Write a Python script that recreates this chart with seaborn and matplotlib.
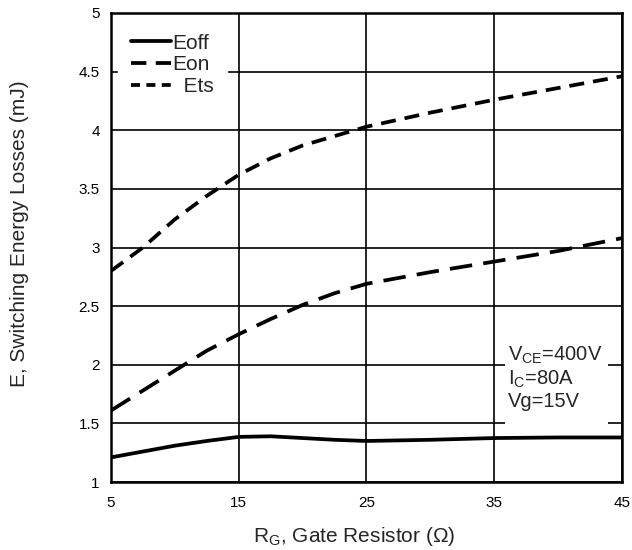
import pandas as pd
import matplotlib.pyplot as plt
import seaborn as sns
from matplotlib.lines import Line2D
from matplotlib.patches import Rectangle

# data
rg = [5, 7.5, 10, 12.5, 15, 17.5, 20, 22.5, 25, 30, 35, 40, 45]
eoff = [1.21, 1.26, 1.31, 1.35, 1.385, 1.39, 1.375, 1.36, 1.35, 1.36, 1.375, 1.38, 1.38]
eon = [1.61, 1.78, 1.95, 2.12, 2.26, 2.39, 2.51, 2.61, 2.69, 2.79, 2.88, 2.97, 3.08]
ets = [2.8, 3.0, 3.24, 3.44, 3.62, 3.76, 3.87, 3.95, 4.03, 4.15, 4.26, 4.36, 4.46]
names = ["Eoff", "Eon", "Ets"]
x_ticks = [5, 15, 25, 35, 45]
y_ticks = [1, 1.5, 2, 2.5, 3, 3.5, 4, 4.5, 5]
y_labels = ["1", "1.5", "2", "2.5", "3", "3.5", "4", "4.5", "5"]

df = pd.concat([
    pd.DataFrame({"Rg": rg, "E": vals, "curve": name})
    for name, vals in zip(names, [eoff, eon, ets])
], ignore_index=True)

sns.set_style("white")
plt.rcParams['font.family'] = ['Liberation Sans', 'DejaVu Sans']
plt.rcParams['mathtext.fontset'] = 'custom'
plt.rcParams['mathtext.rm'] = 'Liberation Sans'

LW = 2.7
fig = plt.figure(figsize=(6.32, 5.5), dpi=100)
ax = fig.add_axes([0.1756, 0.1236, 0.8084, 0.8528])

sns.lineplot(data=df, x="Rg", y="E", hue="curve", style="curve",
             palette={n: "black" for n in names},
             dashes={"Eoff": "", "Eon": (6, 3), "Ets": (4, 2.4)},
             linewidth=LW, legend=False, ax=ax)

ax.set_xlim(5, 45)
ax.set_ylim(1, 5)
ax.set_xticks(x_ticks)
ax.set_xticklabels([str(t) for t in x_ticks])
ax.set_yticks(y_ticks)
ax.set_yticklabels(y_labels)
ax.tick_params(length=0, labelsize=11, colors="black")
ax.tick_params(axis="y", pad=8)
ax.tick_params(axis="x", pad=10)
ax.grid(True, color="black", linewidth=1.2)
ax.set_axisbelow(True)
for s in ax.spines.values():
    s.set_color("black")
    s.set_linewidth(1.8)

ax.set_xlabel(r"R$_\mathregular{G}$, Gate Resistor (Ω)", fontsize=15)
ax.xaxis.set_label_coords(0.477, -0.092)
ax.set_ylabel("E, Switching Energy Losses (mJ)", fontsize=15)
ax.yaxis.set_label_coords(-0.16, 0.53)

# legend handles drawn with the short dash look of the original
handles = [
    Line2D([], [], color="black", lw=LW, linestyle="-"),
    Line2D([], [], color="black", lw=LW, linestyle=(0, (4.1, 2.5))),
    Line2D([], [], color="black", lw=LW, linestyle=(0, (2.4, 1.7))),
]
ax.legend(handles, ["Eoff", "Eon", "  Ets"], loc="upper left",
          bbox_to_anchor=(0.0137, 0.984), borderaxespad=0,
          fontsize=15, handlelength=1.92, handletextpad=0.05,
          labelspacing=0.13, borderpad=0.63, frameon=True,
          fancybox=False, framealpha=1, edgecolor="white")

# white panel behind the test conditions
ax.add_patch(Rectangle((0.771, 0.115), 0.202, 0.188, transform=ax.transAxes,
                       facecolor="white", edgecolor="none", zorder=2))
ax.text(0.777, 0.292,
        "V$_\\mathregular{CE}$=400V\nI$_\\mathregular{C}$=80A\nVg=15V",
        transform=ax.transAxes, fontsize=14.5, va="top", ha="left",
        linespacing=1.15, zorder=3)

fig.savefig("out.png", dpi=100)
